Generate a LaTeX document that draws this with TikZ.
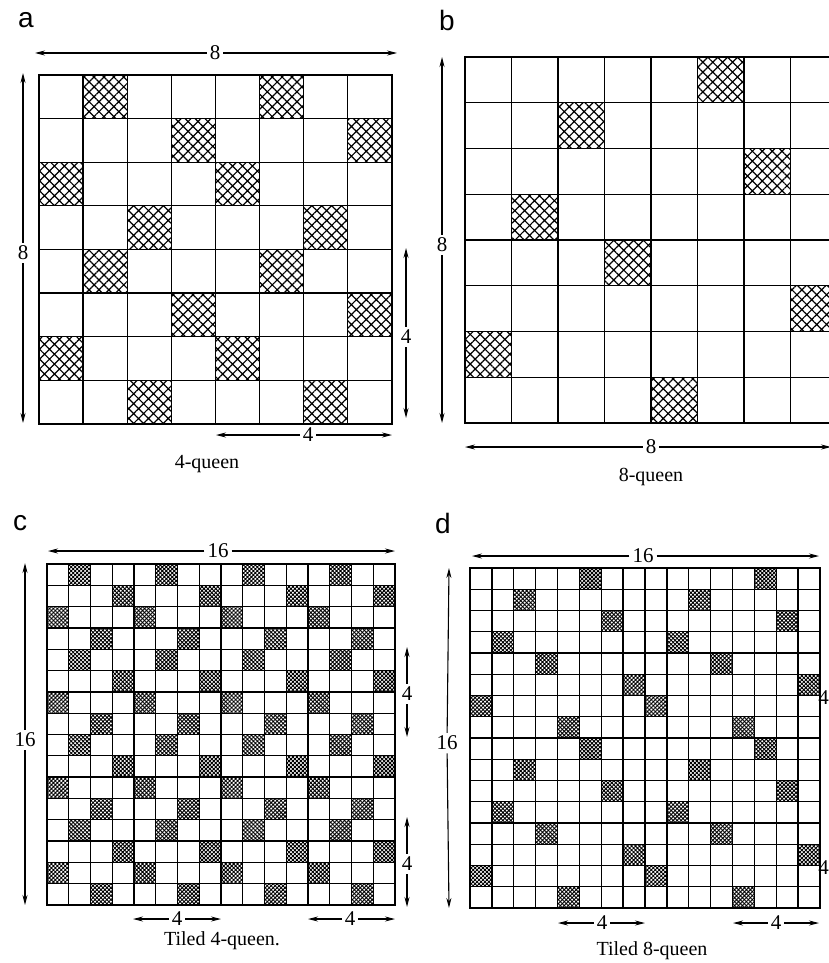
\documentclass[tikz,border=0pt]{standalone}
\usepackage{fontspec}
\setmainfont{Liberation Serif}
\newfontfamily\panelfont{Liberation Sans}
\usetikzlibrary{patterns.meta,arrows.meta}
\tikzset{
  gl/.style={line width=1.3pt,black},
  gb/.style={line width=1.8pt,black},
  qbig/.style={pattern={Hatch[angle=45,distance=7pt,line width=1.2pt]},pattern color=black},
  qsmall/.style={pattern={Hatch[angle=45,distance=2.8pt,line width=0.9pt]},pattern color=black},
  dim/.style={line width=1.1pt,-{Stealth[length=10pt,width=5pt]}},
  dimlbl/.style={font=\fontsize{21}{24}\selectfont,inner sep=3pt},
  captext/.style={font=\fontsize{20}{24}\selectfont,inner sep=0pt},
  plabel/.style={font=\panelfont\fontsize{28}{32}\selectfont,inner sep=0pt},
}
\begin{document}
\begin{tikzpicture}[x=1pt,y=-1pt]
\useasboundingbox (0,0) rectangle (829,963);
\clip (0,0) rectangle (829,963);
\fill[white] (0,0) rectangle (829,963);

% ---------------- panel a ----------------
\node[plabel] (la) at (26,20) {a};
\begin{scope}[shift={(39,75)},x=44.1pt,y=-43.6pt]
  \foreach \br in {0,4} \foreach \bc in {0,4}
    \foreach \r/\c in {0/1,1/3,2/0,3/2}
      \fill[qbig] (\bc+\c,\br+\r) rectangle ++(1,1);
  \foreach \i in {1,...,7} {
    \draw[gl] (\i,0) -- (\i,8);
    \draw[gl] (0,\i) -- (8,\i);
  }
  \draw[gb] (0,0) rectangle (8,8);
\end{scope}
\node[dimlbl] (aT) at (215,53) {8};
\coordinate (aT1) at (35,53); \coordinate (aT2) at (397,53);
\draw[dim] (aT) -- (aT1); \draw[dim] (aT) -- (aT2);
\node[dimlbl] (aL) at (23,253) {8};
\coordinate (aL1) at (23,73); \coordinate (aL2) at (23,423);
\draw[dim] (aL) -- (aL1); \draw[dim] (aL) -- (aL2);
\node[dimlbl] (aR) at (406,337) {4};
\coordinate (aR1) at (406,248); \coordinate (aR2) at (406,418);
\draw[dim] (aR) -- (aR1); \draw[dim] (aR) -- (aR2);
\node[dimlbl] (aB) at (308,435) {4};
\coordinate (aB1) at (216,435); \coordinate (aB2) at (392,435);
\draw[dim] (aB) -- (aB1); \draw[dim] (aB) -- (aB2);
\node[captext] (ca) at (207,464) {4-queen};

% ---------------- panel b ----------------
\node[plabel] (lb) at (447,20) {b};
\begin{scope}[shift={(465,57)},x=46.5pt,y=-45.75pt]
  \foreach \r/\c in {0/5,1/2,2/6,3/1,4/3,5/7,6/0,7/4}
    \fill[qbig] (\c,\r) rectangle ++(1,1);
  \foreach \i in {1,...,7} {
    \draw[gl] (\i,0) -- (\i,8);
    \draw[gl] (0,\i) -- (8,\i);
  }
  \draw[gb] (0,0) rectangle (8,8);
\end{scope}
\node[dimlbl] (bL) at (442,245) {8};
\coordinate (bL1) at (442,57); \coordinate (bL2) at (442,423);
\draw[dim] (bL) -- (bL1); \draw[dim] (bL) -- (bL2);
\node[dimlbl] (bB) at (651,447) {8};
\coordinate (bB1) at (465,447); \coordinate (bB2) at (831,447);
\draw[dim] (bB) -- (bB1); \draw[dim] (bB) -- (bB2);
\node[captext] (cb) at (651,477) {8-queen};

% ---------------- panel c ----------------
\node[plabel] (lc) at (20,523) {c};
\begin{scope}[shift={(47,564)},x=21.75pt,y=-21.31pt]
  \foreach \br in {0,4,8,12} \foreach \bc in {0,4,8,12}
    \foreach \r/\c in {0/1,1/3,2/0,3/2}
      \fill[qsmall] (\bc+\c,\br+\r) rectangle ++(1,1);
  \foreach \i in {1,...,15} {
    \draw[gl] (\i,0) -- (\i,16);
    \draw[gl] (0,\i) -- (16,\i);
  }
  \draw[gb] (0,0) rectangle (16,16);
\end{scope}
\node[dimlbl] (cT) at (218,551) {16};
\coordinate (cT1) at (48,551); \coordinate (cT2) at (395,551);
\draw[dim] (cT) -- (cT1); \draw[dim] (cT) -- (cT2);
\node[dimlbl] (cL) at (25,740) {16};
\coordinate (cL1) at (25,563); \coordinate (cL2) at (25,905);
\draw[dim] (cL) -- (cL1); \draw[dim] (cL) -- (cL2);
\node[dimlbl] (cR) at (407,694) {4};
\coordinate (cR1) at (407,647); \coordinate (cR2) at (407,737);
\draw[dim] (cR) -- (cR1); \draw[dim] (cR) -- (cR2);
\node[dimlbl] (cS) at (407,864) {4};
\coordinate (cS1) at (407,817); \coordinate (cS2) at (407,907);
\draw[dim] (cS) -- (cS1); \draw[dim] (cS) -- (cS2);
\node[dimlbl] (cB) at (177,919) {4};
\coordinate (cB1) at (133,919); \coordinate (cB2) at (221,919);
\draw[dim] (cB) -- (cB1); \draw[dim] (cB) -- (cB2);
\node[dimlbl] (cC) at (350,919) {4};
\coordinate (cC1) at (308,919); \coordinate (cC2) at (395,919);
\draw[dim] (cC) -- (cC1); \draw[dim] (cC) -- (cC2);
\node[captext] (cc) at (222,941) {Tiled 4-queen.};

% ---------------- panel d ----------------
\node[plabel] (ld) at (443,523) {d};
\begin{scope}[shift={(470,568)},x=21.875pt,y=-21.25pt]
  \foreach \br in {0,8} \foreach \bc in {0,8}
    \foreach \r/\c in {0/5,1/2,2/6,3/1,4/3,5/7,6/0,7/4}
      \fill[qsmall] (\bc+\c,\br+\r) rectangle ++(1,1);
  \foreach \i in {1,...,15} {
    \draw[gl] (\i,0) -- (\i,16);
    \draw[gl] (0,\i) -- (16,\i);
  }
  \draw[gb] (4,0) -- (4,16) (12,0) -- (12,16);
  \draw[gb] (0,0) rectangle (16,16);
\end{scope}
\node[dimlbl] (dT) at (643,556) {16};
\coordinate (dT1) at (472,556); \coordinate (dT2) at (819,556);
\draw[dim] (dT) -- (dT1); \draw[dim] (dT) -- (dT2);
\node[dimlbl] (dL) at (447,743) {16};
\coordinate (dL1) at (449,568); \coordinate (dL2) at (449,908);
\draw[dim] (dL) -- (dL1); \draw[dim] (dL) -- (dL2);
\node[dimlbl,inner sep=1pt] (dR) at (823.5,698) {4};
\node[dimlbl,inner sep=1pt] (dS) at (823.5,868) {4};
\node[dimlbl] (dB) at (602,923) {4};
\coordinate (dB1) at (558,923); \coordinate (dB2) at (645,923);
\draw[dim] (dB) -- (dB1); \draw[dim] (dB) -- (dB2);
\node[dimlbl] (dC) at (776,923) {4};
\coordinate (dC1) at (733,923); \coordinate (dC2) at (819,923);
\draw[dim] (dC) -- (dC1); \draw[dim] (dC) -- (dC2);
\node[captext] (cd) at (652,951) {Tiled 8-queen};
\end{tikzpicture}
\end{document}
